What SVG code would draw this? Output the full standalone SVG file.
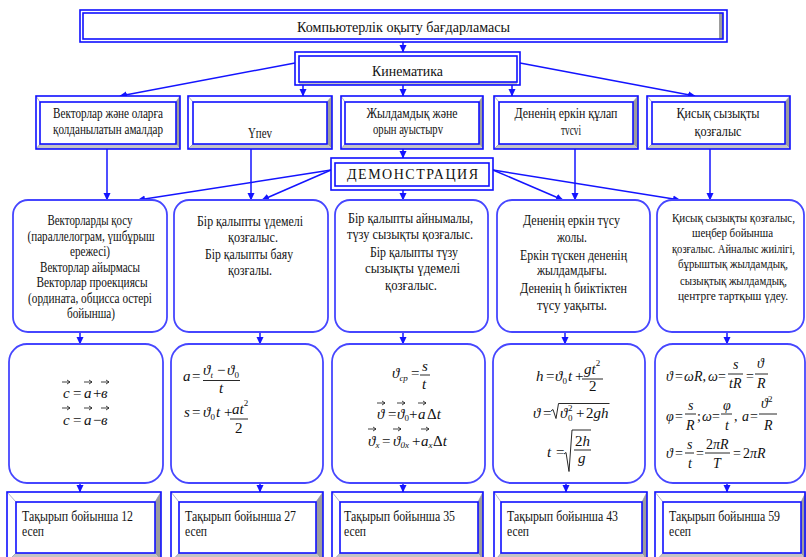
<svg xmlns="http://www.w3.org/2000/svg" xmlns:xlink="http://www.w3.org/1999/xlink" width="806" height="557" viewBox="0 0 806 557">
<style>
.bg{fill:#fff}
.o{fill:none;stroke:#1010ff;stroke-width:1.6}
.i{fill:#fff;stroke:#1010ff;stroke-width:1.6}
.gr{fill:#9c9c9c}
.gl{fill:#c4c4c4}
.dg{stroke:#9090b0;stroke-width:0.7;fill:none}
.rb{fill:#fff;stroke:#4646ff;stroke-width:1.8}
.t{font-family:"Liberation Serif","DejaVu Serif",serif;font-size:14px;fill:#111}
.c{text-anchor:middle}
.m{font-family:"Liberation Serif","DejaVu Serif",serif;font-size:15px;font-style:italic;fill:#111}
.m5{font-size:14px}
.n{font-style:normal}
.s{font-size:9px}
.fb{stroke:#111;stroke-width:0.9}
.cn{stroke:#1414ff;stroke-width:1.5;fill:none;marker-end:url(#ah)}
.rad{stroke:#111;stroke-width:0.9;fill:none}
.sm{font-size:12.5px}
.xs{font-size:11.5px}
</style>
<defs>
<marker id="ah" markerWidth="8" markerHeight="8" refX="7" refY="4" orient="auto" markerUnits="userSpaceOnUse"><path d="M0,0.5 L7.5,4 L0,7.5 z" fill="#1414ff"/></marker>
<path id="va" d="M0,0 h8 M5,-2 L8,0 L5,2" stroke="#111" stroke-width="0.8" fill="none"/>
</defs>
<rect width="806" height="557" fill="#fff"/>

<g id="connectors">
<line class="cn" x1="403" y1="42" x2="403" y2="52"/>
<line class="cn" x1="295" y1="63" x2="120" y2="96"/>
<line class="cn" x1="303" y1="85" x2="303" y2="96"/>
<line class="cn" x1="403" y1="85" x2="403" y2="96"/>
<line class="cn" x1="512" y1="85" x2="512" y2="96"/>
<line class="cn" x1="520" y1="63" x2="695" y2="96"/>
<line class="cn" x1="403" y1="149" x2="403" y2="158"/>
<line class="cn" x1="107" y1="149" x2="107" y2="200"/>
<line class="cn" x1="251" y1="149" x2="251" y2="200"/>
<line class="cn" x1="575" y1="149" x2="575" y2="200"/>
<line class="cn" x1="710" y1="149" x2="710" y2="200"/>
<line class="cn" x1="403" y1="190" x2="403" y2="200"/>
<line class="cn" x1="331" y1="170" x2="138" y2="200"/>
<line class="cn" x1="331" y1="170" x2="262" y2="200"/>
<line class="cn" x1="493" y1="170" x2="563" y2="200"/>
<line class="cn" x1="493" y1="170" x2="680" y2="200"/>
<line class="cn" x1="80" y1="332" x2="80" y2="344"/>
<line class="cn" x1="260" y1="332" x2="260" y2="344"/>
<line class="cn" x1="403" y1="332" x2="403" y2="344"/>
<line class="cn" x1="565" y1="332" x2="565" y2="344"/>
<line class="cn" x1="727" y1="332" x2="727" y2="344"/>
<line class="cn" x1="80" y1="483" x2="80" y2="492"/>
<line class="cn" x1="260" y1="483" x2="260" y2="492"/>
<line class="cn" x1="403" y1="483" x2="403" y2="492"/>
<line class="cn" x1="566" y1="483" x2="566" y2="492"/>
<line class="cn" x1="727" y1="483" x2="727" y2="492"/>
</g>

<g id="n-program">
<rect class="bg" x="80" y="10" width="647" height="32"/>
<rect class="gr" x="719" y="13" width="4" height="26"/>
<rect class="o" x="80" y="10" width="647" height="32" stroke-width="2"/>
<rect class="o" x="83" y="13" width="640" height="26"/>
<text class="t c" x="403.5" y="32" font-size="15" textLength="213" lengthAdjust="spacingAndGlyphs">Компьютерлік оқыту бағдарламасы</text>
</g>

<g id="n-kinematika">
<rect class="bg" x="295" y="52" width="225" height="33"/>
<rect class="gl" x="299" y="82" width="218" height="3"/>
<rect class="o" x="295" y="52" width="225" height="33" stroke-width="2"/>
<rect class="o" x="299" y="56" width="218" height="26"/>
<text class="t c" x="407.5" y="76" font-size="15" textLength="71" lengthAdjust="spacingAndGlyphs">Кинематика</text>
</g>

<g id="n-vectors">
<rect class="bg" x="36" y="96" width="144" height="53"/>
<polygon class="gr" points="180,96 180,149 176,144 176,102"/>
<polygon class="gl" points="36,149 180,149 176,144 40,144"/>
<path class="dg" d="M36,96 L40,102 M180,96 L176,102 M36,149 L40,144"/>
<rect class="o" x="36" y="96" width="144" height="53"/>
<rect class="i" x="40" y="102" width="136" height="42"/>
<text class="t c" x="108" y="118" textLength="110" lengthAdjust="spacingAndGlyphs">Векторлар және оларға</text>
<text class="t c" x="108" y="134" textLength="110" lengthAdjust="spacingAndGlyphs">қолданылатын амалдар</text>
</g>

<g id="n-udeu">
<rect class="bg" x="188" y="96" width="144" height="53"/>
<polygon class="gr" points="332,96 332,149 327,144 327,102"/>
<polygon class="gl" points="188,149 332,149 327,144 193,144"/>
<path class="dg" d="M188,96 L193,102 M332,96 L327,102 M188,149 L193,144"/>
<rect class="o" x="188" y="96" width="144" height="53"/>
<rect class="i" x="193" y="102" width="134" height="42"/>
<text class="t c" x="260" y="138" textLength="24" lengthAdjust="spacingAndGlyphs">Үпеv</text>
</g>

<g id="n-speed">
<rect class="bg" x="341" y="96" width="142" height="53"/>
<polygon class="gr" points="483,96 483,149 479,144 479,102"/>
<polygon class="gl" points="341,149 483,149 479,144 345,144"/>
<path class="dg" d="M341,96 L345,102 M483,96 L479,102 M341,149 L345,144"/>
<rect class="o" x="341" y="96" width="142" height="53"/>
<rect class="i" x="345" y="102" width="134" height="42"/>
<text class="t c" x="412" y="118" textLength="91" lengthAdjust="spacingAndGlyphs">Жылдамдық және</text>
<text class="t c" x="408" y="134" textLength="70" lengthAdjust="spacingAndGlyphs">орын ауыстырv</text>
</g>

<g id="n-fall">
<rect class="bg" x="494" y="96" width="144" height="53"/>
<polygon class="gr" points="638,96 638,149 633,144 633,102"/>
<polygon class="gl" points="494,149 638,149 633,144 499,144"/>
<path class="dg" d="M494,96 L499,102 M638,96 L633,102 M494,149 L499,144"/>
<rect class="o" x="494" y="96" width="144" height="53"/>
<rect class="i" x="499" y="102" width="134" height="42"/>
<text class="t c" x="566" y="118" textLength="103" lengthAdjust="spacingAndGlyphs">Дененің еркін құлап</text>
<text class="t c" x="571" y="135" font-size="13" textLength="20" lengthAdjust="spacingAndGlyphs">тvсvі</text>
</g>

<g id="n-curve">
<rect class="bg" x="647" y="96" width="143" height="53"/>
<polygon class="gr" points="790,96 790,149 785,144 785,102"/>
<polygon class="gl" points="647,149 790,149 785,144 652,144"/>
<path class="dg" d="M647,96 L652,102 M790,96 L785,102 M647,149 L652,144"/>
<rect class="o" x="647" y="96" width="143" height="53"/>
<rect class="i" x="652" y="102" width="133" height="42"/>
<text class="t c" x="718" y="118" textLength="83" lengthAdjust="spacingAndGlyphs">Қисық сызықты</text>
<text class="t c" x="718" y="136" textLength="47" lengthAdjust="spacingAndGlyphs">қозғалыс</text>
</g>

<g id="n-demo">
<rect class="bg" x="331" y="158" width="162" height="32"/>
<rect class="o" x="331" y="158" width="162" height="32" stroke-width="2"/>
<rect class="o" x="335" y="163" width="154" height="23"/>
<text class="t c" x="412.5" y="179" font-size="15" textLength="131" lengthAdjust="spacing">ДЕМОНСТРАЦИЯ</text>
</g>

<g id="n-d1">
<rect class="rb" x="13" y="200" width="154" height="132" rx="15"/>
<text class="t c" x="90" y="225" textLength="85" lengthAdjust="spacingAndGlyphs">Векторларды қосу</text>
<text class="t c" x="91" y="240.5" textLength="127" lengthAdjust="spacingAndGlyphs">(параллелограм, үшбұрыш</text>
<text class="t c" x="90" y="256" textLength="40" lengthAdjust="spacingAndGlyphs">ережесі)</text>
<text class="t c" x="90" y="271.5" textLength="100" lengthAdjust="spacingAndGlyphs">Векторлар айырмасы</text>
<text class="t c" x="92" y="287" textLength="111" lengthAdjust="spacingAndGlyphs">Векторлар проекциясы</text>
<text class="t c" x="90" y="302.5" textLength="124" lengthAdjust="spacingAndGlyphs">(ордината, обцисса остері</text>
<text class="t c" x="91" y="318" textLength="48" lengthAdjust="spacingAndGlyphs">бойынша)</text>
</g>

<g id="n-d2">
<rect class="rb" x="174" y="200" width="154" height="132" rx="15"/>
<text class="t c" x="250" y="226" textLength="106" lengthAdjust="spacingAndGlyphs">Бір қалыпты үдемелі</text>
<text class="t c" x="253" y="242" textLength="50" lengthAdjust="spacingAndGlyphs">қозғалыс.</text>
<text class="t c" x="249" y="259" textLength="88" lengthAdjust="spacingAndGlyphs">Бір қалыпты баяу</text>
<text class="t c" x="250" y="275" textLength="44" lengthAdjust="spacingAndGlyphs">қозғалы.</text>
</g>

<g id="n-d3">
<rect class="rb" x="335" y="200" width="153" height="132" rx="15"/>
<text class="t c" x="410.5" y="223" textLength="125" lengthAdjust="spacingAndGlyphs">Бір қалыпты айнымалы,</text>
<text class="t c" x="410" y="239" textLength="126" lengthAdjust="spacingAndGlyphs">түзу сызықты қозғалыс.</text>
<text class="t c" x="414" y="257" textLength="88" lengthAdjust="spacingAndGlyphs">Бір қалыпты түзу</text>
<text class="t c" x="412.5" y="273" textLength="95" lengthAdjust="spacingAndGlyphs">сызықты үдемелі</text>
<text class="t c" x="411" y="290" textLength="52" lengthAdjust="spacingAndGlyphs">қозғалыс.</text>
</g>

<g id="n-d4">
<rect class="rb" x="497" y="200" width="153" height="132" rx="15"/>
<text class="t c" x="571.5" y="225" textLength="97" lengthAdjust="spacingAndGlyphs">Дененің еркін түсу</text>
<text class="t c" x="572" y="242" textLength="30" lengthAdjust="spacingAndGlyphs">жолы.</text>
<text class="t c" x="573.5" y="260" textLength="107" lengthAdjust="spacingAndGlyphs">Еркін түскен дененің</text>
<text class="t c" x="572" y="275" textLength="70" lengthAdjust="spacingAndGlyphs">жылдамдығы.</text>
<text class="t c" x="573.5" y="293" textLength="107" lengthAdjust="spacingAndGlyphs">Дененің h биіктіктен</text>
<text class="t c" x="572" y="310" textLength="70" lengthAdjust="spacingAndGlyphs">түсу уақыты.</text>
</g>

<g id="n-d5">
<rect class="rb" x="657" y="200" width="147" height="132" rx="15"/>
<text class="t c xs" x="733.5" y="222" textLength="123" lengthAdjust="spacingAndGlyphs">Қисық сызықты қозғалыс,</text>
<text class="t c sm" x="732.5" y="237" textLength="81" lengthAdjust="spacingAndGlyphs">шеңбер бойынша</text>
<text class="t c xs" x="733.5" y="253" textLength="123" lengthAdjust="spacingAndGlyphs">қозғалыс. Айналыс жиілігі,</text>
<text class="t c sm" x="733" y="268" textLength="110" lengthAdjust="spacingAndGlyphs">бұрыштық жылдамдық,</text>
<text class="t c sm" x="733.5" y="285" textLength="107" lengthAdjust="spacingAndGlyphs">сызықтық жылдамдық,</text>
<text class="t c sm" x="733" y="300" textLength="110" lengthAdjust="spacingAndGlyphs">центрге тартқыш үдеу.</text>
</g>

<g id="n-f1">
<rect class="rb" x="9" y="344" width="154" height="139" rx="18"/>
<text class="m" y="398"><tspan x="63">c</tspan><tspan x="73" class="n">=</tspan><tspan x="84">a</tspan><tspan x="93" class="n">+</tspan><tspan x="101">в</tspan></text>
<use href="#va" x="62" y="382"/><use href="#va" x="84" y="382"/><use href="#va" x="101" y="382"/>
<text class="m" y="425"><tspan x="63">c</tspan><tspan x="73" class="n">=</tspan><tspan x="84">a</tspan><tspan x="93" class="n">−</tspan><tspan x="101">в</tspan></text>
<use href="#va" x="62" y="408"/><use href="#va" x="84" y="408"/><use href="#va" x="101" y="408"/>
</g>

<g id="n-f2">
<rect class="rb" x="171" y="344" width="152" height="139" rx="18"/>
<text class="m" x="183" y="381">a</text>
<text class="m n" x="192" y="381">=</text>
<text class="m" y="375"><tspan x="203">ϑ</tspan><tspan class="s" dy="3">t</tspan><tspan class="n" x="217" dy="-3">−</tspan><tspan x="227">ϑ</tspan><tspan class="s n" dy="3">0</tspan></text>
<line class="fb" x1="203" y1="380.5" x2="240" y2="380.5"/>
<text class="m" x="219" y="393">t</text>
<text class="m" x="184" y="417">s</text>
<text class="m n" x="192" y="417">=</text>
<text class="m" y="417"><tspan x="203">ϑ</tspan><tspan class="s n" dy="3">0</tspan><tspan x="216" dy="-3">t</tspan><tspan class="n" x="224">+</tspan></text>
<text class="m" y="414"><tspan x="232">at</tspan><tspan class="s n" dy="-8">2</tspan></text>
<line class="fb" x1="230" y1="419" x2="248" y2="419"/>
<text class="m n" x="235" y="433">2</text>
</g>

<g id="n-f3">
<rect class="rb" x="332" y="344" width="153" height="139" rx="18"/>
<text class="m" y="378"><tspan x="392">ϑ</tspan><tspan class="s" dy="3">ср</tspan></text>
<text class="m n" x="411" y="378">=</text>
<text class="m" x="422" y="371">s</text>
<line class="fb" x1="420" y1="375" x2="430" y2="375"/>
<text class="m" x="422" y="389">t</text>
<text class="m" y="419"><tspan x="377">ϑ</tspan><tspan class="n" x="388">=</tspan><tspan x="397">ϑ</tspan><tspan class="s n" dy="2">0</tspan><tspan class="n" x="409" dy="-2">+</tspan><tspan x="418">a</tspan><tspan class="n" x="427">Δ</tspan><tspan>t</tspan></text>
<use href="#va" x="377" y="403"/><use href="#va" x="397" y="403"/><use href="#va" x="418" y="403"/>
<text class="m" y="446"><tspan x="368">ϑ</tspan><tspan class="s" dy="2">x</tspan><tspan class="n" x="382" dy="-2">=</tspan><tspan x="393">ϑ</tspan><tspan class="s" dy="2">0x</tspan><tspan class="n" x="412" dy="-2">+</tspan><tspan x="421">a</tspan><tspan class="s" dy="2">x</tspan><tspan class="n" x="433" dy="-2">Δ</tspan><tspan>t</tspan></text>
<use href="#va" x="368" y="429"/><use href="#va" x="393" y="429"/><use href="#va" x="421" y="429"/>
</g>

<g id="n-f4">
<rect class="rb" x="493" y="344" width="152" height="139" rx="18"/>
<text class="m" y="381"><tspan x="536">h</tspan><tspan class="n" x="546">=</tspan><tspan x="555">ϑ</tspan><tspan class="s n" dy="3">0</tspan><tspan x="568" dy="-3">t</tspan><tspan class="n" x="575">+</tspan></text>
<text class="m" y="374"><tspan x="584">gt</tspan><tspan class="s n" dy="-8">2</tspan></text>
<line class="fb" x1="582" y1="379" x2="603" y2="379"/>
<text class="m n" x="589" y="391">2</text>
<text class="m" y="418"><tspan x="533">ϑ</tspan><tspan class="n" x="543">=</tspan></text>
<path class="rad" d="M551,411 l2,-1.5 l3,9 l2.5,-15 h51"/>
<text class="m" y="418"><tspan x="560">ϑ</tspan><tspan class="s n" x="568" dy="3">0</tspan><tspan class="s n" x="568" dy="-10">2</tspan><tspan class="n" x="576" dy="7">+</tspan><tspan class="n" x="586">2</tspan><tspan>gh</tspan></text>
<text class="m" y="457"><tspan x="547">t</tspan><tspan class="n" x="556">=</tspan></text>
<path class="rad" d="M564,454 l2,-1.5 l3,19 l3,-41.5 h19"/>
<text class="m" y="446"><tspan class="n" x="575">2</tspan><tspan>h</tspan></text>
<line class="fb" x1="574" y1="450" x2="591" y2="450"/>
<text class="m" x="578" y="463">g</text>
</g>

<g id="n-f5">
<rect class="rb" x="655" y="344" width="150" height="139" rx="18"/>
<text class="m m5" y="381"><tspan x="666">ϑ</tspan><tspan class="n" x="675">=</tspan><tspan x="684">ωR</tspan><tspan class="n">,</tspan><tspan x="708">ω</tspan><tspan class="n" x="718">=</tspan></text>
<text class="m m5" x="733" y="369">s</text>
<line class="fb" x1="728" y1="374" x2="743" y2="374"/>
<text class="m m5" x="729" y="388">tR</text>
<text class="m m5 n" x="746" y="381">=</text>
<text class="m m5" x="757" y="368">ϑ</text>
<line class="fb" x1="755" y1="374" x2="768" y2="374"/>
<text class="m m5" x="757" y="388">R</text>
<text class="m m5" y="421"><tspan x="666">φ</tspan><tspan class="n" x="675">=</tspan></text>
<text class="m m5" x="688" y="410">s</text>
<line class="fb" x1="685" y1="414" x2="696" y2="414"/>
<text class="m m5" x="686" y="430">R</text>
<text class="m m5" y="421"><tspan class="n" x="697">;</tspan><tspan x="702">ω</tspan><tspan class="n" x="712">=</tspan></text>
<text class="m m5" x="723" y="410">φ</text>
<line class="fb" x1="721" y1="414" x2="732" y2="414"/>
<text class="m m5" x="725" y="430">t</text>
<text class="m m5" y="421"><tspan class="n" x="734">,</tspan><tspan x="742">a</tspan><tspan class="n" x="750">=</tspan></text>
<text class="m m5" y="408"><tspan x="761">ϑ</tspan><tspan class="s n" dy="-6">2</tspan></text>
<line class="fb" x1="759" y1="414" x2="777" y2="414"/>
<text class="m m5" x="764" y="430">R</text>
<text class="m m5" y="458"><tspan x="666">ϑ</tspan><tspan class="n" x="675">=</tspan></text>
<text class="m m5" x="687" y="449">s</text>
<line class="fb" x1="685" y1="453" x2="694" y2="453"/>
<text class="m m5" x="688" y="468">t</text>
<text class="m m5 n" x="696" y="458">=</text>
<text class="m m5" y="449"><tspan class="n" x="706">2</tspan><tspan>πR</tspan></text>
<line class="fb" x1="705" y1="453" x2="730" y2="453"/>
<text class="m m5" x="713" y="468">T</text>
<text class="m m5 n" x="733" y="458">=</text>
<text class="m m5" y="458"><tspan class="n" x="743">2</tspan><tspan>πR</tspan></text>
</g>

<g id="n-t1">
<rect class="bg" x="7" y="492" width="154" height="70"/>
<polygon class="gr" points="161,492 161,562 155,553 155,502"/>
<polygon class="gl" points="7,562 161,562 155,553 16,553"/>
<path class="dg" d="M7,492 L16,502 M161,492 L155,502 M7,562 L16,553"/>
<rect class="o" x="7" y="492" width="154" height="70"/>
<rect class="i" x="16" y="502" width="139" height="51"/>
<text class="t" x="22" y="521" textLength="111" lengthAdjust="spacingAndGlyphs">Тақырып бойынша 12</text>
<text class="t" x="22" y="536" textLength="22" lengthAdjust="spacingAndGlyphs">есеп</text>
</g>

<g id="n-t2">
<rect class="bg" x="171" y="492" width="152" height="70"/>
<polygon class="gr" points="323,492 323,562 316,553 316,502"/>
<polygon class="gl" points="171,562 323,562 316,553 179,553"/>
<path class="dg" d="M171,492 L179,502 M323,492 L316,502 M171,562 L179,553"/>
<rect class="o" x="171" y="492" width="152" height="70"/>
<rect class="i" x="179" y="502" width="137" height="51"/>
<text class="t" x="185" y="521" textLength="111" lengthAdjust="spacingAndGlyphs">Тақырып бойынша 27</text>
<text class="t" x="185" y="536" textLength="22" lengthAdjust="spacingAndGlyphs">есеп</text>
</g>

<g id="n-t3">
<rect class="bg" x="332" y="492" width="151" height="70"/>
<polygon class="gr" points="483,492 483,562 478,553 478,502"/>
<polygon class="gl" points="332,562 483,562 478,553 340,553"/>
<path class="dg" d="M332,492 L340,502 M483,492 L478,502 M332,562 L340,553"/>
<rect class="o" x="332" y="492" width="151" height="70"/>
<rect class="i" x="340" y="502" width="138" height="51"/>
<text class="t" x="344" y="521" textLength="111" lengthAdjust="spacingAndGlyphs">Тақырып бойынша 35</text>
<text class="t" x="344" y="536" textLength="22" lengthAdjust="spacingAndGlyphs">есеп</text>
</g>

<g id="n-t4">
<rect class="bg" x="494" y="492" width="153" height="70"/>
<polygon class="gr" points="647,492 647,562 642,553 642,502"/>
<polygon class="gl" points="494,562 647,562 642,553 501,553"/>
<path class="dg" d="M494,492 L501,502 M647,492 L642,502 M494,562 L501,553"/>
<rect class="o" x="494" y="492" width="153" height="70"/>
<rect class="i" x="501" y="502" width="141" height="51"/>
<text class="t" x="507" y="521" textLength="111" lengthAdjust="spacingAndGlyphs">Тақырып бойынша 43</text>
<text class="t" x="507" y="536" textLength="22" lengthAdjust="spacingAndGlyphs">есеп</text>
</g>

<g id="n-t5">
<rect class="bg" x="655" y="492" width="151" height="70"/>
<polygon class="gr" points="806,492 806,562 801,553 801,502"/>
<polygon class="gl" points="655,562 806,562 801,553 663,553"/>
<path class="dg" d="M655,492 L663,502 M806,492 L801,502 M655,562 L663,553"/>
<rect class="o" x="655" y="492" width="150" height="70"/>
<rect class="i" x="663" y="502" width="138" height="51"/>
<text class="t" x="669" y="521" textLength="111" lengthAdjust="spacingAndGlyphs">Тақырып бойынша 59</text>
<text class="t" x="669" y="536" textLength="22" lengthAdjust="spacingAndGlyphs">есеп</text>
</g>
</svg>
